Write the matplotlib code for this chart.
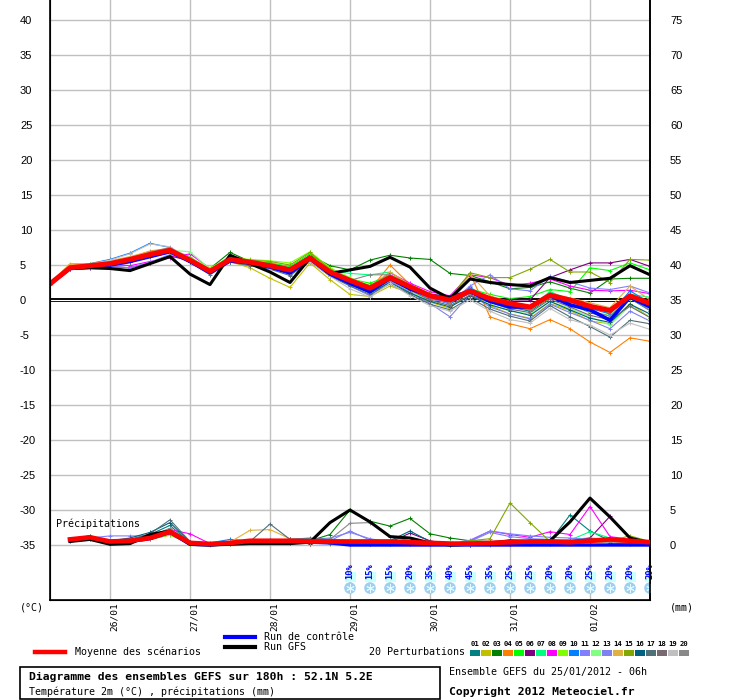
import matplotlib
matplotlib.use('Agg')
import matplotlib.pyplot as plt
from matplotlib.patches import Rectangle
from matplotlib.lines import Line2D

plt.rcParams['axes.unicode_minus'] = False

# ---- data -------------------------------------------------------------
hours = list(range(0, 181, 6))          # 25/01 06h + 0..180h
precip_hours = hours[1:]
day_hours = [18, 42, 66, 90, 114, 138, 162]
day_labels = ['26/01', '27/01', '28/01', '29/01', '30/01', '31/01', '01/02']

mean_temp = [2.3, 4.6, 4.9, 5.2, 5.8, 6.5, 7.1, 5.7, 4.1, 5.8, 5.4, 4.9, 4.3, 6.0, 4.0,
             2.8, 1.7, 3.2, 1.9, 0.6, 0.0, 1.3, 0.2, -0.5, -1.0, 0.7, 0.0, -0.9, -1.5, 0.6, -0.5]
gfs_temp = [2.3, 4.5, 4.6, 4.5, 4.2, 5.2, 6.2, 3.7, 2.2, 6.4, 5.2, 4.0, 2.5, 6.0, 3.8,
            4.3, 4.8, 6.1, 4.7, 1.7, 0.2, 3.0, 2.5, 2.2, 2.0, 3.2, 2.5, 2.8, 3.1, 4.9, 3.6]
ctrl_temp = [2.3, 4.5, 4.7, 5.0, 5.5, 6.2, 6.9, 5.5, 3.9, 5.6, 5.3, 4.7, 3.9, 5.9, 3.7,
             2.4, 1.2, 3.1, 1.6, 0.6, 0.4, 1.2, -0.2, -1.0, -1.0, 0.6, -0.7, -1.4, -2.9, 0.4, -1.0]

pert_temp = [
    [2.3, 4.7, 5.0, 5.4, 6.0, 6.8, 7.3, 5.5, 4.0, 5.9, 5.5, 5.0, 4.5, 6.1, 3.8,
     2.5, 1.0, 2.8, 1.5, 0.2, -0.5, 1.0, 0.0, -1.0, -1.6, 0.3, -0.6, -1.8, -2.6, 0.2, -1.5],
    [2.5, 4.9, 5.1, 5.3, 5.7, 6.4, 7.0, 5.6, 4.3, 5.5, 4.6, 3.1, 1.8, 5.3, 2.9,
     0.8, 0.5, 2.0, 1.0, -0.3, -1.2, 1.5, -0.8, -2.0, -2.6, -0.5, -1.5, -3.0, -3.4, -0.5, -2.5],
    [2.4, 4.6, 4.8, 5.1, 5.5, 6.3, 7.2, 5.8, 4.5, 6.8, 5.5, 5.2, 4.6, 6.4, 4.9,
     4.3, 5.7, 6.4, 6.0, 5.8, 3.8, 3.5, 2.6, 1.6, 1.8, 2.6, 1.7, 1.0, 3.0, 3.1, 3.1],
    [2.4, 5.0, 5.1, 5.5, 6.1, 7.0, 7.4, 5.6, 4.2, 5.7, 5.4, 4.8, 4.2, 6.2, 4.3,
     2.6, 1.5, 5.0, 2.2, 0.5, 0.3, 3.8, -2.4, -3.4, -4.1, -2.8, -4.1, -6.0, -7.5, -5.4, -5.9],
    [2.3, 4.5, 4.8, 5.1, 5.6, 6.3, 7.0, 5.9, 4.3, 6.3, 5.6, 5.3, 4.8, 6.6, 4.5,
     3.0, 2.4, 3.5, 2.3, 0.8, 0.1, 1.6, 0.8, 0.2, 0.5, 1.5, 1.2, 4.6, 4.2, 5.3, 4.3],
    [2.3, 4.4, 4.6, 4.8, 4.6, 5.3, 6.3, 5.6, 3.9, 5.7, 5.6, 4.9, 3.8, 5.9, 3.6,
     2.3, 1.3, 3.0, 1.6, 0.3, -0.5, 1.0, 0.2, 0.0, 0.0, 3.2, 4.3, 5.3, 5.3, 5.8, 4.8],
    [2.2, 4.5, 4.9, 5.2, 5.9, 6.7, 7.3, 6.2, 4.2, 5.8, 5.3, 5.0, 4.5, 6.2, 4.2,
     3.8, 3.6, 4.0, 2.0, 0.7, 0.2, 1.2, 0.4, -0.8, -1.0, 1.2, 0.0, -0.8, -2.0, 0.8, 0.4],
    [2.3, 4.6, 4.9, 5.1, 4.9, 5.5, 6.0, 6.6, 4.5, 5.9, 5.6, 5.1, 3.6, 5.8, 4.2,
     2.8, 1.9, 3.9, 2.4, 1.2, 0.6, 3.6, 3.2, 2.1, 2.4, 3.0, 2.0, 1.4, 1.3, 1.4, 0.9],
    [2.4, 4.7, 4.9, 5.2, 5.6, 6.4, 7.0, 6.0, 4.6, 6.0, 5.8, 5.6, 5.3, 6.9, 4.6,
     3.2, 2.0, 3.3, 2.0, 0.6, -0.3, 1.4, 0.3, -0.7, -1.3, 0.3, -0.5, -1.7, -2.2, 0.2, -0.8],
    [2.3, 4.7, 5.2, 5.8, 6.7, 8.1, 7.5, 5.8, 4.1, 5.5, 5.2, 4.7, 4.0, 5.7, 3.9,
     2.6, 1.4, 3.6, 1.6, 0.4, -0.6, 1.8, 0.1, -0.8, -1.5, 0.9, -0.3, -1.2, -2.0, 1.3, -0.4],
    [2.3, 4.4, 4.6, 4.8, 4.6, 5.4, 6.5, 5.9, 4.0, 5.6, 5.5, 5.0, 4.1, 5.9, 3.8,
     2.4, 1.1, 3.3, 1.5, 0.2, -0.5, 2.0, 3.6, 1.6, 1.3, 3.4, 2.6, 1.7, 1.5, 2.0, 1.0],
    [2.2, 4.6, 4.9, 5.1, 5.7, 6.5, 7.1, 6.9, 4.4, 5.7, 5.2, 4.8, 4.2, 6.1, 3.9,
     2.5, 1.2, 2.6, 1.2, -0.1, -0.8, 0.6, -0.6, -1.6, -2.0, -0.2, -1.2, -2.4, -3.6, -0.8, -2.5],
    [2.3, 4.5, 4.7, 5.0, 5.4, 6.2, 6.9, 5.7, 4.0, 5.6, 5.3, 4.7, 3.9, 5.8, 3.7,
     2.0, 0.6, 2.7, 1.1, -0.5, -2.4, 0.8, -1.0, -2.0, -2.7, -0.6, -1.8, -2.9, -4.1, -1.6, -3.0],
    [2.4, 5.2, 5.2, 5.6, 6.2, 6.9, 7.3, 5.8, 4.4, 5.6, 5.3, 4.6, 4.4, 6.0, 3.5,
     2.2, 1.9, 4.0, 2.2, 0.9, 0.0, 3.7, 0.6, -0.3, -0.8, 0.8, 0.3, -0.4, -1.1, 2.0, 0.0],
    [2.3, 4.6, 4.8, 5.0, 5.5, 6.3, 6.8, 5.7, 4.2, 6.2, 5.7, 5.5, 5.0, 6.8, 4.4,
     2.9, 2.1, 3.6, 2.2, 0.9, 0.3, 3.9, 3.2, 3.2, 4.4, 5.8, 4.0, 4.0, 2.5, 5.8, 5.7],
    [2.3, 4.6, 4.8, 5.1, 5.6, 6.4, 7.0, 5.5, 3.8, 5.5, 5.0, 4.6, 3.7, 5.6, 3.6,
     2.2, 1.0, 2.5, 1.0, -0.2, -1.0, 0.6, -0.7, -1.5, -2.2, -0.2, -1.4, -2.6, -3.2, -0.6, -2.0],
    [2.3, 4.5, 4.7, 5.0, 5.4, 6.3, 7.0, 5.4, 3.6, 5.4, 4.9, 4.4, 3.5, 5.5, 3.4,
     2.0, 0.8, 2.3, 0.8, -0.6, -1.4, 0.3, -1.3, -2.3, -3.0, -0.8, -2.4, -3.8, -5.3, -2.9, -3.4],
    [2.3, 4.7, 5.0, 5.3, 5.9, 6.7, 7.4, 5.8, 4.0, 5.7, 5.2, 4.6, 3.8, 5.7, 3.7,
     2.5, 1.3, 2.9, 1.4, 0.0, -0.8, 0.7, -0.3, -1.3, -1.8, 0.1, -1.0, -2.2, -2.8, -0.9, -2.5],
    [2.2, 4.6, 5.1, 5.7, 6.6, 8.0, 7.6, 5.9, 4.2, 5.7, 5.3, 4.5, 4.0, 5.5, 3.4,
     1.6, 0.4, 2.4, 0.6, -0.8, -1.6, 0.0, -1.6, -2.8, -3.3, -1.2, -2.8, -3.6, -5.0, -3.3, -4.2],
    [2.3, 4.6, 4.9, 5.3, 5.9, 6.8, 7.5, 5.6, 3.9, 5.8, 5.4, 4.9, 4.1, 5.9, 3.9,
     2.8, 3.6, 3.6, 2.0, 0.6, -0.2, 1.0, -0.1, -1.0, -1.4, 0.5, -0.6, -1.6, -2.3, 0.3, -1.5],
]

mean_precip = [0.8, 1.1, 0.5, 0.6, 1.0, 1.9, 0.3, 0.15, 0.3, 0.6, 0.6, 0.6, 0.5, 0.5, 0.5,
               0.5, 0.5, 0.4, 0.3, 0.2, 0.2, 0.3, 0.4, 0.5, 0.5, 0.4, 0.6, 0.8, 0.6, 0.4]
gfs_precip = [0.5, 0.8, 0.1, 0.2, 1.5, 2.0, 0.1, 0.0, 0.1, 0.2, 0.2, 0.2, 0.4, 3.2, 5.0,
              3.3, 1.2, 1.0, 0.3, 0.0, 0.1, 0.3, 0.6, 0.5, 0.6, 3.3, 6.7, 4.0, 1.0, 0.3]
ctrl_precip = [0.6, 1.0, 0.3, 0.5, 0.9, 1.8, 0.1, 0.0, 0.2, 0.6, 0.5, 0.5, 0.4, 0.3, 0.0,
               0.0, 0.0, 0.0, 0.0, 0.0, 0.0, 0.0, 0.0, 0.0, 0.0, 0.0, 0.0, 0.0, 0.0, 0.0]

pert_precip = [
    [0.9, 1.2, 0.4, 0.7, 1.5, 2.8, 0.3, 0.1, 0.4, 0.6, 0.5, 0.4, 0.5, 0.4, 0.3,
     0.2, 0.3, 0.2, 0.1, 0.0, 0.1, 0.2, 0.3, 0.3, 0.5, 4.3, 2.0, 0.6, 0.4, 0.2],
    [0.7, 1.2, 0.6, 0.5, 0.8, 1.4, 0.2, 0.1, 0.2, 0.4, 0.3, 0.3, 0.2, 0.6, 0.7,
     0.5, 0.3, 0.1, 0.1, 0.0, 0.0, 0.1, 0.2, 0.2, 0.3, 0.2, 0.4, 0.5, 0.8, 0.3],
    [0.8, 1.1, 0.4, 0.7, 0.9, 1.6, 0.3, 0.2, 0.3, 0.5, 0.5, 0.4, 0.6, 1.5, 5.0,
     3.4, 2.7, 3.8, 1.6, 1.0, 0.6, 0.5, 0.4, 0.3, 0.2, 0.5, 0.6, 0.3, 0.2, 0.1],
    [0.9, 1.3, 0.5, 0.6, 1.0, 1.7, 0.2, 0.1, 0.3, 0.4, 0.6, 0.5, 0.4, 0.3, 0.3,
     0.3, 0.2, 0.2, 0.1, 0.0, 0.0, 0.0, 0.1, 0.2, 0.2, 0.3, 0.4, 0.5, 0.3, 0.2],
    [0.7, 1.0, 0.3, 0.6, 0.8, 1.5, 0.3, 0.1, 0.4, 0.5, 0.4, 0.6, 0.5, 0.4, 0.4,
     0.3, 0.3, 0.2, 0.1, 0.0, 0.0, 0.1, 0.3, 0.4, 0.6, 0.8, 1.0, 0.8, 0.5, 0.3],
    [0.6, 0.9, 0.3, 0.5, 0.9, 1.6, 0.4, 0.1, 0.2, 0.4, 0.3, 0.3, 0.2, 0.3, 0.2,
     0.2, 0.4, 1.7, 0.6, 0.1, 0.0, 0.1, 0.2, 0.4, 0.5, 0.6, 1.0, 4.1, 1.0, 0.4],
    [0.8, 1.1, 0.6, 0.7, 1.2, 1.8, 0.2, 0.0, 0.3, 0.5, 0.5, 0.5, 0.6, 0.4, 0.3,
     0.2, 0.2, 0.2, 0.2, 0.1, 0.1, 0.2, 0.3, 0.3, 0.4, 0.7, 1.9, 1.0, 0.6, 0.3],
    [0.7, 1.0, 0.5, 0.8, 1.3, 2.2, 1.6, 0.2, 0.3, 0.4, 0.5, 0.3, 0.4, 0.3, 0.3,
     0.2, 0.2, 0.2, 0.3, 0.1, 0.6, 2.0, 1.5, 1.1, 1.9, 1.5, 5.5, 1.2, 0.8, 0.4],
    [0.8, 1.2, 0.4, 0.6, 1.0, 2.0, 0.3, 0.2, 0.3, 0.4, 0.3, 0.5, 0.4, 0.3, 0.4,
     0.3, 0.2, 0.1, 0.1, 0.1, 0.1, 0.3, 0.4, 0.5, 0.3, 0.5, 0.7, 0.5, 0.4, 0.2],
    [0.9, 1.0, 0.5, 0.7, 1.1, 2.1, 0.4, 0.3, 0.8, 0.6, 0.7, 0.8, 0.9, 0.5, 0.4,
     0.3, 0.2, 0.2, 0.2, 0.1, 0.1, 0.2, 0.3, 0.4, 0.4, 0.5, 0.6, 0.6, 0.5, 0.3],
    [0.8, 1.0, 1.3, 1.3, 1.3, 2.3, 0.4, 0.2, 0.4, 0.6, 0.6, 0.7, 0.8, 1.0, 1.8,
     0.9, 0.4, 0.3, 0.2, 0.1, 0.7, 2.0, 1.6, 1.3, 1.1, 1.0, 0.8, 0.8, 0.6, 0.3],
    [0.7, 1.1, 0.4, 0.5, 0.8, 1.5, 0.2, 0.1, 0.2, 0.3, 0.3, 0.4, 0.3, 0.4, 0.5,
     0.4, 0.3, 0.2, 0.1, 0.1, 0.2, 0.3, 0.4, 0.3, 0.3, 0.4, 0.6, 0.4, 0.3, 0.2],
    [0.9, 1.2, 0.5, 0.6, 1.0, 1.8, 0.3, 0.1, 0.3, 0.5, 0.5, 0.4, 0.3, 0.6, 2.0,
     0.7, 0.3, 0.2, 0.1, 0.1, 0.5, 1.8, 1.2, 0.9, 0.8, 0.6, 0.5, 0.6, 0.4, 0.2],
    [0.8, 1.3, 0.6, 0.6, 0.9, 1.7, 0.3, 0.2, 0.4, 2.1, 2.2, 0.9, 0.5, 0.4, 0.4,
     0.3, 0.2, 0.1, 0.2, 0.1, 0.1, 0.2, 0.3, 0.3, 0.4, 0.3, 0.5, 0.4, 0.3, 0.2],
    [0.8, 1.1, 0.5, 0.6, 1.0, 1.6, 0.2, 0.1, 0.3, 0.4, 0.4, 0.3, 0.3, 0.2, 0.2,
     0.2, 0.2, 0.1, 0.1, 0.1, 0.6, 0.9, 6.0, 3.2, 0.5, 0.4, 0.5, 0.6, 1.3, 0.5],
    [0.8, 1.2, 0.6, 1.0, 1.8, 3.2, 0.4, 0.1, 0.3, 0.5, 0.7, 0.6, 0.4, 0.3, 0.3,
     0.3, 0.6, 2.0, 0.5, 0.2, 0.1, 0.2, 0.3, 0.4, 0.5, 0.6, 0.7, 0.5, 0.4, 0.2],
    [0.9, 1.3, 0.5, 0.8, 1.6, 3.6, 0.5, 0.2, 0.3, 0.5, 3.0, 0.8, 0.9, 0.8, 0.6,
     0.4, 0.3, 0.2, 0.2, 0.1, 0.1, 0.2, 0.3, 0.3, 0.4, 0.5, 0.5, 0.4, 0.3, 0.2],
    [0.8, 1.1, 0.5, 0.7, 1.1, 2.0, 0.3, 0.1, 0.3, 0.5, 0.6, 0.8, 1.0, 0.7, 0.5,
     0.4, 0.3, 0.2, 0.2, 0.1, 0.1, 0.2, 0.3, 0.4, 0.5, 0.4, 0.6, 0.6, 0.4, 0.2],
    [0.8, 1.1, 0.4, 0.6, 1.0, 1.8, 0.3, 0.1, 0.3, 0.5, 0.5, 0.6, 0.5, 0.4, 0.5,
     0.4, 0.3, 0.2, 0.1, 0.1, 0.1, 0.2, 0.3, 0.3, 0.4, 0.4, 0.5, 0.4, 0.3, 0.2],
    [0.8, 1.2, 0.5, 0.7, 1.2, 2.4, 0.3, 0.1, 0.3, 0.5, 0.6, 0.5, 0.7, 0.8, 3.1,
     3.2, 1.2, 0.6, 0.2, 0.1, 0.1, 0.2, 0.3, 0.4, 0.5, 0.4, 0.5, 0.5, 0.3, 0.2],
]

pert_colors = ['#008080', '#c0c000', '#008000', '#ff8000', '#00ff00', '#800080', '#00ff80',
               '#ff00ff', '#80ff00', '#0080ff', '#8080ff', '#80ff80', '#8080f0', '#e0b040',
               '#80a800', '#006080', '#507078', '#786870', '#c0c0c0', '#888888']

snow_hours = list(range(90, 181, 6))
snow_pct = [10, 15, 15, 20, 35, 40, 45, 35, 25, 25, 20, 20, 25, 20, 20, 20]

# ---- figure -----------------------------------------------------------
W, H = 740, 700
MONO = 'DejaVu Sans Mono'
fig = plt.figure(figsize=(W / 100, H / 100), dpi=100)
ax = fig.add_axes([50 / W, 100 / H, 600 / W, 600 / H])
lim = 300 / 7
ax.set_xlim(0, 180)
ax.set_ylim(-lim, lim)

ax.set_yticks(range(-35, 41, 5))
ax.set_xticks(day_hours)
ax.set_xticklabels(day_labels, rotation=90, family=MONO, fontsize=6.8, ha='left', va='top')
ax.tick_params(axis='x', length=0, pad=1.5)
ax.tick_params(axis='y', length=0, pad=21.6, labelsize=8)
for lab in ax.get_yticklabels():
    lab.set_horizontalalignment('left')
    lab.set_family('Liberation Sans')
ax.grid(True, color='#c0c0c0', lw=1.0)
ax.set_axisbelow(True)
ax.spines['top'].set_visible(False)
for s in ('left', 'right', 'bottom'):
    ax.spines[s].set_linewidth(1.2)

ax2 = ax.twinx()
ax2.set_ylim(-lim + 35, lim + 35)
ax2.set_yticks(range(0, 76, 5))
ax2.tick_params(axis='y', length=0, pad=14.4, labelsize=8)
for lab in ax2.get_yticklabels():
    lab.set_family('Liberation Sans')
ax2.spines['top'].set_visible(False)
ax2.spines['right'].set_linewidth(1.2)

# zero line (double)
ax.axhline(0, color='black', lw=2.8, zorder=1.5)
ax.axhline(0, color='white', lw=0.8, zorder=1.6)

# temperature
for vals, c in zip(pert_temp, pert_colors):
    ax.plot(hours, vals, color=c, lw=0.8, marker='+', ms=3, mew=0.7, zorder=2)
ax.plot(hours, ctrl_temp, color='#0000ff', lw=2.6, zorder=3)
ax.plot(hours, gfs_temp, color='black', lw=2.2, zorder=3.2)
ax.plot(hours, mean_temp, color='#ff0000', lw=3.6, zorder=3.4)

# precipitation (right axis, mm)
for vals, c in zip(pert_precip, pert_colors):
    ax2.plot(precip_hours, vals, color=c, lw=0.8, marker='+', ms=3, mew=0.7, zorder=2)
ax2.plot(precip_hours, ctrl_precip, color='#0000ff', lw=2.4, zorder=3)
ax2.plot(precip_hours, gfs_precip, color='black', lw=2.2, zorder=3.2)
ax2.plot(precip_hours, mean_precip, color='#ff0000', lw=3.4, zorder=3.4)
ax2.text(1.8, 3.0, 'Précipitations', family=MONO, fontsize=7.2, va='center', ha='left')

# snow probability markers
for h, p in zip(snow_hours, snow_pct):
    ax.add_patch(Rectangle((h - 1.6, -40.3), 3.4, 1.5, color='#c8ffff', lw=0, zorder=4))
    ax.text(h, -38.8, f'{p}%', rotation=90, color='#0000ff', family=MONO, fontsize=6.3,
            fontweight='bold', ha='center', va='center', zorder=5)
ax.scatter(snow_hours, [-41.15] * len(snow_hours), s=70, color='#9cd0f0', edgecolor='none', zorder=4)
ax.scatter(snow_hours, [-41.15] * len(snow_hours), s=30, marker=(6, 2, 0), color='#e8f8ff',
           linewidths=0.7, zorder=5)

# ---- texts / legend ---------------------------------------------------
def fx(x):
    return x / W


def fy(y):
    return 1 - y / H


fig.text(fx(20), fy(607), '(°C)', family=MONO, fontsize=7.2, va='center')
fig.text(fx(670), fy(607), '(mm)', family=MONO, fontsize=7.2, va='center')

fig.add_artist(Line2D([fx(35), fx(65)], [fy(652)] * 2, color='#ff0000', lw=3.2))
fig.text(fx(75), fy(652), 'Moyenne des scénarios', family=MONO, fontsize=7.2, va='center')
fig.add_artist(Line2D([fx(225), fx(255)], [fy(637)] * 2, color='#0000ff', lw=3.0))
fig.text(fx(264), fy(637), 'Run de contrôle', family=MONO, fontsize=7.2, va='center')
fig.add_artist(Line2D([fx(225), fx(255)], [fy(647)] * 2, color='black', lw=3.0))
fig.text(fx(264), fy(647), 'Run GFS', family=MONO, fontsize=7.2, va='center')

fig.text(fx(369), fy(652), '20 Perturbations', family=MONO, fontsize=7.2, va='center')
for k, c in enumerate(pert_colors):
    x0 = 470 + 11 * k
    fig.add_artist(Rectangle((fx(x0), fy(656)), 10 / W, 6 / H, color=c, lw=0))
    fig.text(fx(x0 + 5), fy(644), f'{k + 1:02d}', family=MONO, fontsize=5.2,
             fontweight='bold', ha='center', va='center')

fig.add_artist(Rectangle((fx(20), fy(699)), 420 / W, 32 / H, facecolor='white',
                         edgecolor='black', lw=1.2))
fig.text(fx(29), fy(677), 'Diagramme des ensembles GEFS sur 180h : 52.1N 5.2E',
         family=MONO, fontsize=8.2, fontweight='bold', va='center')
fig.text(fx(29), fy(692), 'Température 2m (°C) , précipitations (mm)',
         family=MONO, fontsize=7.2, va='center')
fig.text(fx(449), fy(672), 'Ensemble GEFS du 25/01/2012 - 06h', family=MONO, fontsize=7.2, va='center')
fig.text(fx(449), fy(692), 'Copyright 2012 Meteociel.fr', family=MONO, fontsize=8.2,
         fontweight='bold', va='center')

fig.savefig('out.png', dpi=100)
